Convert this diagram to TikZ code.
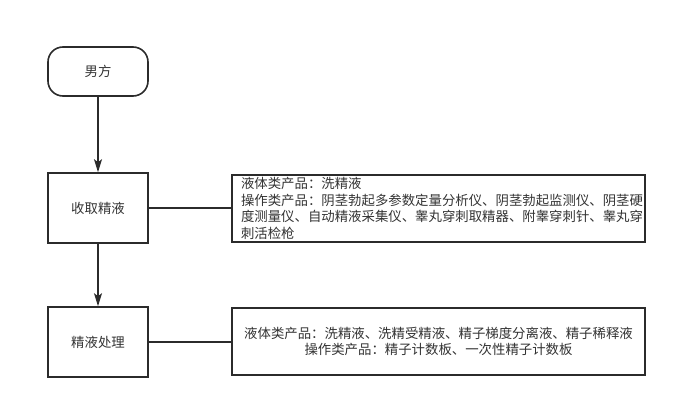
\documentclass[tikz,border=0pt]{standalone}
\usepackage{fontspec}
\setmainfont{Noto Sans CJK SC}
\usetikzlibrary{arrows.meta,positioning}
\definecolor{linegray}{HTML}{2B2B2B}
\definecolor{textgray}{HTML}{333333}

\begin{document}
\begin{tikzpicture}[x=1pt,y=-1pt,
    every node/.style={text=textgray,font=\fontsize{13.4}{16.5}\selectfont},
    every path/.style={draw=linegray,line width=1.6pt},
    step box/.style={draw,minimum width=100pt,minimum height=70pt,inner sep=0pt},
    info box/.style={draw,minimum width=413pt,minimum height=67pt,inner xsep=9pt,inner ysep=0pt},
    >={Stealth[length=13pt,width=8pt,inset=3pt]}]
  \path[draw=none,use as bounding box] (0,0) rectangle (677,409);
  \node[draw,rounded corners=15pt,minimum width=100pt,minimum height=49pt] (man) at (98,71.5) {男方};
  \node[step box] (collect) at (98,208) {收取精液};
  \node[step box] (process) at (98,342) {精液处理};
  \node[info box,text width=395pt,align=left] (info1) at (438.5,208.5)
    {液体类产品：洗精液\\
     操作类产品：阴茎勃起多参数定量分析仪、阴茎勃起监测仪、阴茎硬\\
     度测量仪、自动精液采集仪、睾丸穿刺取精器、附睾穿刺针、睾丸穿\\
     刺活检枪};
  \node[info box,align=center] (info2) at (438.5,341.5)
    {液体类产品：洗精液、洗精受精液、精子梯度分离液、精子稀释液\\
     操作类产品：精子计数板、一次性精子计数板};
  \draw[->] (man) -- (collect);
  \draw[->] (collect) -- (process);
  \draw (collect.east) -- (collect.east -| info1.west);
  \draw (process.east) -- (process.east -| info2.west);
\end{tikzpicture}
\end{document}
